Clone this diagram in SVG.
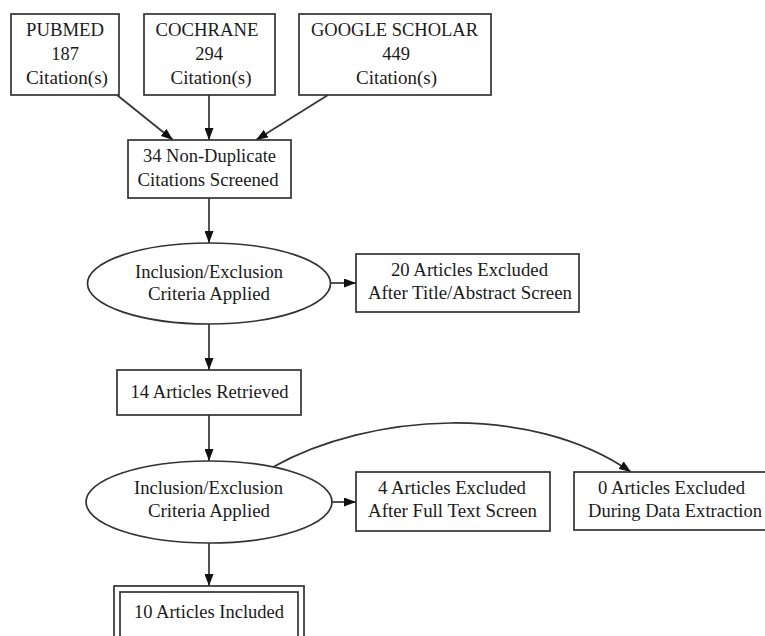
<svg xmlns="http://www.w3.org/2000/svg" width="765" height="636" viewBox="0 0 765 636">
<defs>
<style>
.n{fill:#fff;stroke:#333;stroke-width:1.7}
.t{font-family:"Liberation Serif","Times New Roman",serif;font-size:18.5px;fill:#1a1a1a;text-anchor:middle}
.e{fill:none;stroke:#333;stroke-width:1.7}
</style>
<marker id="ah" markerWidth="12" markerHeight="9" refX="12" refY="4.5" orient="auto" markerUnits="userSpaceOnUse">
<path d="M0,0 L12,4.5 L0,9 z" fill="#111"/>
</marker>
</defs>
<rect width="765" height="636" fill="#fff"/>
<g id="edges">
<line class="e" x1="117" y1="95" x2="173" y2="140" marker-end="url(#ah)"/>
<line class="e" x1="209" y1="95" x2="209" y2="140" marker-end="url(#ah)"/>
<line class="e" x1="328" y1="95" x2="256" y2="140" marker-end="url(#ah)"/>
<line class="e" x1="209" y1="198" x2="209" y2="243" marker-end="url(#ah)"/>
<line class="e" x1="330" y1="283" x2="356" y2="283" marker-end="url(#ah)"/>
<line class="e" x1="209" y1="324" x2="209" y2="370" marker-end="url(#ah)"/>
<line class="e" x1="209" y1="415" x2="209" y2="461" marker-end="url(#ah)"/>
<line class="e" x1="332" y1="502" x2="356" y2="502" marker-end="url(#ah)"/>
<path class="e" d="M273,467 C370,413 530,402 631,472" marker-end="url(#ah)"/>
<line class="e" x1="209" y1="543" x2="209" y2="586" marker-end="url(#ah)"/>
</g>
<g id="pubmed">
<rect class="n" x="11" y="14" width="108" height="81"/>
<text class="t" x="65" y="35.5" textLength="78" lengthAdjust="spacingAndGlyphs">PUBMED</text>
<text class="t" x="65" y="59.5">187</text>
<text class="t" x="67" y="83.5" textLength="82" lengthAdjust="spacingAndGlyphs">Citation(s)</text>
</g>
<g id="cochrane">
<rect class="n" x="144" y="14" width="131" height="81"/>
<text class="t" x="207" y="35.5" textLength="103" lengthAdjust="spacingAndGlyphs">COCHRANE</text>
<text class="t" x="209" y="59.5">294</text>
<text class="t" x="211" y="83.5" textLength="81" lengthAdjust="spacingAndGlyphs">Citation(s)</text>
</g>
<g id="scholar">
<rect class="n" x="299" y="14" width="192" height="81"/>
<text class="t" x="394.5" y="35.5" textLength="167" lengthAdjust="spacingAndGlyphs">GOOGLE SCHOLAR</text>
<text class="t" x="396" y="59.5">449</text>
<text class="t" x="396.5" y="83.5" textLength="81" lengthAdjust="spacingAndGlyphs">Citation(s)</text>
</g>
<g id="nondup">
<rect class="n" x="128" y="140" width="163" height="58"/>
<text class="t" x="209.5" y="162" textLength="133" lengthAdjust="spacingAndGlyphs">34 Non-Duplicate</text>
<text class="t" x="208" y="186" textLength="141" lengthAdjust="spacingAndGlyphs">Citations Screened</text>
</g>
<g id="criteria1">
<ellipse class="n" cx="209" cy="283.5" rx="121.5" ry="40.5"/>
<text class="t" x="209" y="278" textLength="148" lengthAdjust="spacingAndGlyphs">Inclusion/Exclusion</text>
<text class="t" x="209" y="300" textLength="122" lengthAdjust="spacingAndGlyphs">Criteria Applied</text>
</g>
<g id="excl20">
<rect class="n" x="356" y="254" width="223" height="58"/>
<text class="t" x="469.5" y="276" textLength="157" lengthAdjust="spacingAndGlyphs">20 Articles Excluded</text>
<text class="t" x="470" y="299" textLength="204" lengthAdjust="spacingAndGlyphs">After Title/Abstract Screen</text>
</g>
<g id="retrieved">
<rect class="n" x="117" y="370" width="184" height="45"/>
<text class="t" x="209.5" y="398" textLength="158" lengthAdjust="spacingAndGlyphs">14 Articles Retrieved</text>
</g>
<g id="criteria2">
<ellipse class="n" cx="209" cy="502" rx="123" ry="41"/>
<text class="t" x="208.5" y="494" textLength="149" lengthAdjust="spacingAndGlyphs">Inclusion/Exclusion</text>
<text class="t" x="209" y="517" textLength="122" lengthAdjust="spacingAndGlyphs">Criteria Applied</text>
</g>
<g id="excl4">
<rect class="n" x="356" y="472" width="194" height="59"/>
<text class="t" x="452" y="494" textLength="148" lengthAdjust="spacingAndGlyphs">4 Articles Excluded</text>
<text class="t" x="452.5" y="517" textLength="169" lengthAdjust="spacingAndGlyphs">After Full Text Screen</text>
</g>
<g id="excl0">
<rect class="n" x="574" y="472" width="198" height="58"/>
<text class="t" x="671.5" y="494" textLength="147" lengthAdjust="spacingAndGlyphs">0 Articles Excluded</text>
<text class="t" x="675" y="517" textLength="174" lengthAdjust="spacingAndGlyphs">During Data Extraction</text>
</g>
<g id="included">
<rect class="n" x="114" y="586" width="190" height="60"/>
<rect class="n" x="120" y="592" width="178" height="48"/>
<text class="t" x="209" y="618" textLength="150" lengthAdjust="spacingAndGlyphs">10 Articles Included</text>
</g>
</svg>
